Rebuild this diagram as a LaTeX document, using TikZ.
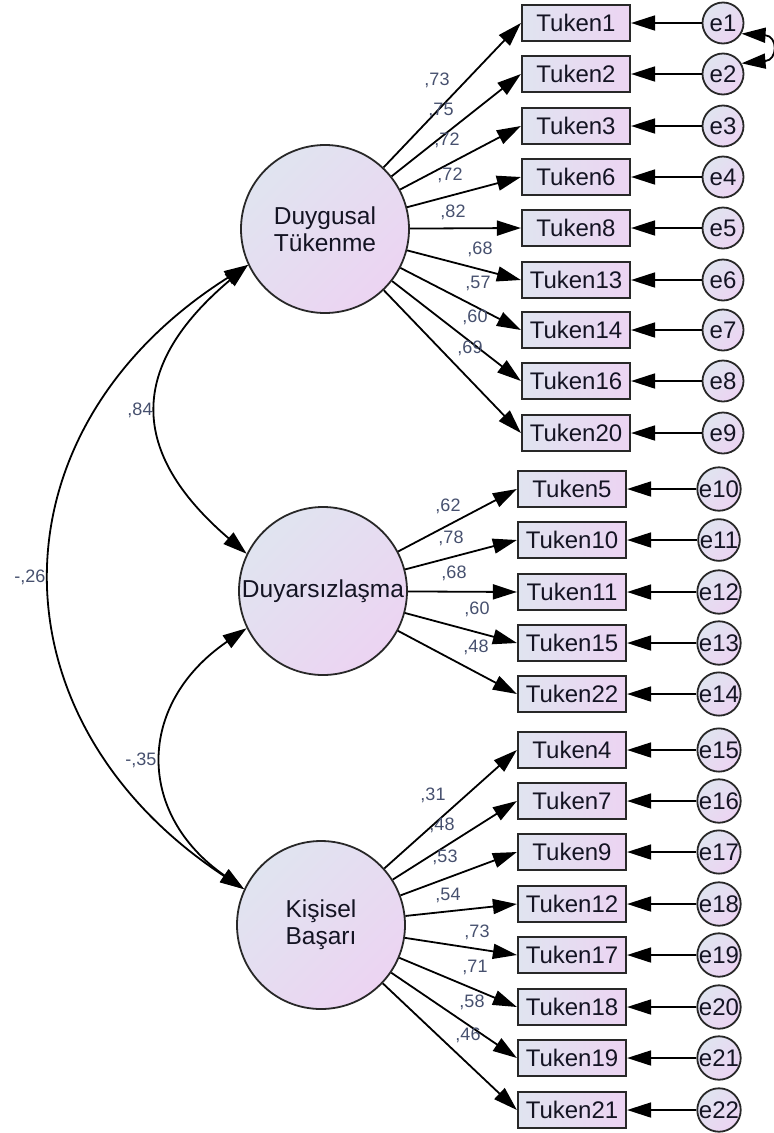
\documentclass[tikz,border=0pt]{standalone}
\usepackage{fontspec}
\setmainfont{Liberation Sans}
\usetikzlibrary{arrows.meta}
\definecolor{lblc}{RGB}{70,80,110}
\definecolor{fillA}{RGB}{224,228,240}
\definecolor{fillB}{RGB}{236,212,242}
\definecolor{bord}{RGB}{40,40,40}
\definecolor{txt}{RGB}{20,20,35}
\begin{document}
\begin{tikzpicture}[x=1pt,y=-1pt,
 obs/.style={draw=bord, line width=2.2pt, left color=fillA, right color=fillB, minimum width=108pt, minimum height=36pt, inner sep=0pt, font=\fontsize{24}{27}\selectfont, text=txt},
 lat/.style={circle, draw=bord, line width=1.8pt, top color=fillA, bottom color=fillB, shading angle=45, minimum size=168pt, inner sep=0pt, font=\fontsize{24.5}{27}\selectfont, text=txt, align=center},
 err/.style={circle, draw=bord, line width=1.8pt, top color=fillA, bottom color=fillB, shading angle=45, minimum size=41pt, inner sep=0pt, font=\fontsize{24}{27}\selectfont, text=txt},
 ld/.style={line width=1.8pt, draw=black, -{Triangle[length=24pt,width=15pt]}},
 cov/.style={line width=1.8pt, draw=black, {Triangle[length=24pt,width=15pt]}-{Triangle[length=24pt,width=15pt]}},
 lbl/.style={font=\fontsize{18}{20}\selectfont, text=lblc, inner sep=0pt}
]
\useasboundingbox (0,0) rectangle (774,1133);

% latent variables
\node[lat] (DT) at (325,229) {Duygusal\\Tükenme};
\node[lat] (DY) at (323,591) {Duyarsızlaşma};
\node[lat] (KB) at (321,925) {Kişisel\\Başarı};

% group 1
\foreach \nm/\y/\e in {1/23/1,2/74/2,3/126/3,6/177/4,8/228/5,13/280/6,14/330/7,16/381/8,20/433/9}{
  \node[obs] (T\nm) at (576,\y) {Tuken\nm};
  \node[err] (E\e) at (723,\y) {e\e};
  \draw[ld] (DT) -- (T\nm.west);
  \draw[ld] (E\e) -- (T\nm.east);
}
% group 2
\foreach \nm/\y/\e in {5/489/10,10/540/11,11/592/12,15/643/13,22/694/14}{
  \node[obs] (T\nm) at (572,\y) {Tuken\nm};
  \node[err] (E\e) at (719,\y) {e\e};
  \draw[ld] (DY) -- (T\nm.west);
  \draw[ld] (E\e) -- (T\nm.east);
}
% group 3
\foreach \nm/\y/\e in {4/750/15,7/801/16,9/852/17,12/904/18,17/955/19,18/1007/20,19/1058/21,21/1110/22}{
  \node[obs] (T\nm) at (572,\y) {Tuken\nm};
  \node[err] (E\e) at (719,\y) {e\e};
  \draw[ld] (KB) -- (T\nm.west);
  \draw[ld] (E\e) -- (T\nm.east);
}

% covariances
\draw[cov] (DT.205) .. controls (128,366) and (128,452) .. (DY.154);
\draw[cov] (DY.206) .. controls (136,704) and (136,814) .. (KB.155);
\draw[cov] (DT.205) .. controls (-13,430) and (-13,720) .. (KB.155);
\draw[cov] (E1.-30) .. controls (778,36) and (778,60) .. (E2.30);

% covariance labels
\node[lbl] (c1) at (140,410) {,84};
\node[lbl] (c2) at (30,577) {-,26};
\node[lbl] (c3) at (141,760) {-,35};

% loading labels
\foreach \x/\y/\t [count=\i] in {437/80/{,73},441/110/{,75},447/140/{,72},450/175/{,72},453/212/{,82},480/249/{,68},478/283/{,57},475/317/{,60},470/348/{,69},
  448/506/{,62},451/538/{,78},454/573/{,68},477/609/{,60},476/647/{,48},
  433/795/{,31},442/825/{,48},445/857/{,53},448/895/{,54},477/932/{,73},475/967/{,71},472/1002/{,58},468/1035/{,46}}{
  \node[lbl] (l\i) at (\x,\y) {\t};
}
\end{tikzpicture}
\end{document}
